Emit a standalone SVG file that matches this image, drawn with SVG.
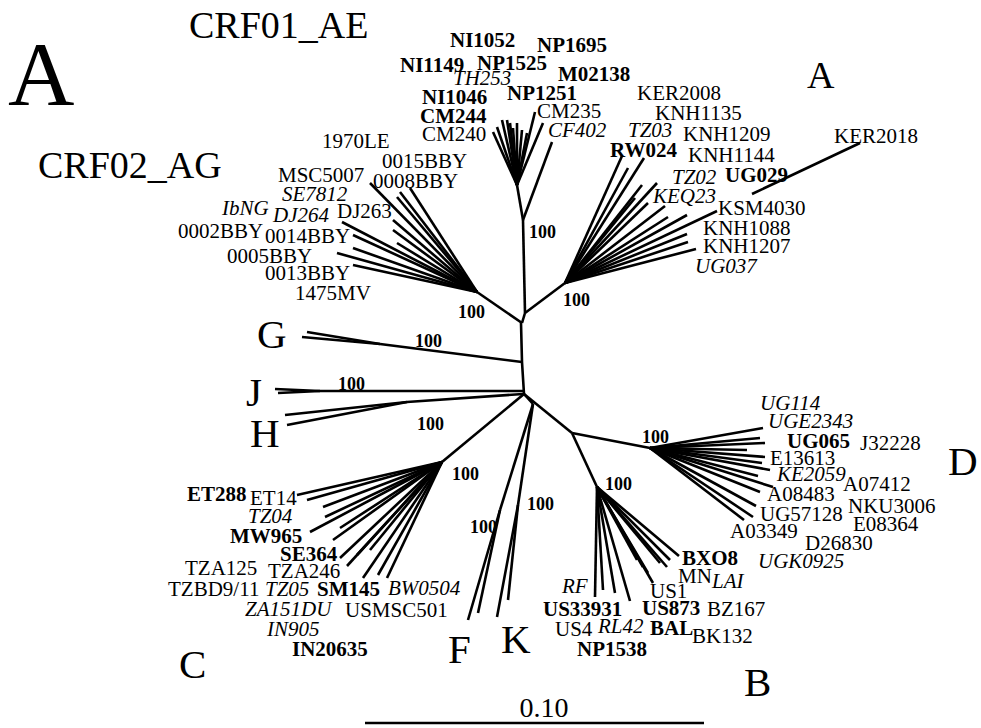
<svg xmlns="http://www.w3.org/2000/svg" width="981" height="728" viewBox="0 0 981 728">
<style>
text{font-family:"Liberation Serif","Times New Roman",serif;fill:#000}
.t{font-size:21px}
.b{font-weight:bold}
.i{font-style:italic}
.bs{font-size:18px;font-weight:bold}
.big{font-size:41px}
.crf{font-size:38px}
.ln{stroke:#000;stroke-width:2.6;fill:none;stroke-linecap:butt}
</style>
<rect width="981" height="728" fill="#fff"/>
<g id="connectors" class="ln">
<polyline points="521,323 522,362 524,394"/>
<line x1="522" y1="323" x2="477" y2="292"/>
<line x1="522" y1="323" x2="525" y2="313"/>
<line x1="525" y1="313" x2="565" y2="283"/>
<line x1="525" y1="313" x2="523" y2="220"/>
<line x1="523" y1="220" x2="517" y2="185"/>
<line x1="523" y1="220" x2="552" y2="142"/>
<g id="crf01-tips">
<line x1="517" y1="185" x2="493" y2="132"/><line x1="517" y1="185" x2="497" y2="127"/>
<line x1="517" y1="185" x2="502" y2="120"/><line x1="517" y1="185" x2="507" y2="120"/>
<line x1="517" y1="185" x2="510" y2="123"/><line x1="517" y1="185" x2="513" y2="128"/>
<line x1="517" y1="185" x2="517" y2="123"/><line x1="517" y1="185" x2="522" y2="130"/>
<line x1="517" y1="185" x2="527" y2="133"/><line x1="517" y1="185" x2="535" y2="112"/>
<line x1="517" y1="185" x2="543" y2="123"/>
</g>
<g id="a-tips">
<line x1="565" y1="283" x2="622" y2="156"/><line x1="565" y1="283" x2="628" y2="168"/>
<line x1="565" y1="283" x2="644" y2="158"/><line x1="565" y1="283" x2="642" y2="185"/>
<line x1="565" y1="283" x2="657" y2="183"/><line x1="565" y1="283" x2="635" y2="198"/>
<line x1="565" y1="283" x2="648" y2="203"/><line x1="565" y1="283" x2="665" y2="206"/>
<line x1="565" y1="283" x2="668" y2="217"/><line x1="565" y1="283" x2="687" y2="215"/>
<line x1="565" y1="283" x2="717" y2="211"/><line x1="752" y1="194" x2="860" y2="143"/>
<line x1="565" y1="283" x2="687" y2="234"/><line x1="565" y1="283" x2="688" y2="242"/>
<line x1="565" y1="283" x2="696" y2="249"/>
</g>
<g id="crf02-tips">
<line x1="477" y1="292" x2="370" y2="183"/><line x1="477" y1="292" x2="400" y2="192"/>
<line x1="477" y1="292" x2="410" y2="188"/><line x1="477" y1="292" x2="397" y2="197"/>
<line x1="477" y1="292" x2="393" y2="220"/><line x1="477" y1="292" x2="393" y2="230"/>
<line x1="477" y1="292" x2="397" y2="243"/><line x1="477" y1="292" x2="342" y2="222"/>
<line x1="477" y1="292" x2="353" y2="235"/><line x1="477" y1="292" x2="353" y2="248"/>
<line x1="477" y1="292" x2="337" y2="253"/><line x1="477" y1="292" x2="353" y2="265"/>
</g>
<line x1="522" y1="362" x2="380" y2="344"/>
<line x1="380" y1="344" x2="307" y2="332"/><line x1="380" y1="344" x2="302" y2="337"/>
<line x1="523" y1="391" x2="320" y2="391"/>
<line x1="320" y1="391" x2="275" y2="389"/><line x1="320" y1="391" x2="278" y2="393"/>
<line x1="523" y1="394" x2="407" y2="402"/>
<line x1="407" y1="402" x2="285" y2="415"/><line x1="407" y1="402" x2="287" y2="425"/>
<line x1="524" y1="394" x2="442" y2="462"/>
<g id="c-tips">
<line x1="442" y1="462" x2="297" y2="495"/><line x1="442" y1="462" x2="307" y2="500"/>
<line x1="442" y1="462" x2="323" y2="507"/><line x1="442" y1="462" x2="325" y2="517"/>
<line x1="442" y1="462" x2="310" y2="532"/><line x1="442" y1="462" x2="340" y2="528"/>
<line x1="442" y1="462" x2="333" y2="540"/><line x1="442" y1="462" x2="340" y2="558"/>
<line x1="442" y1="462" x2="347" y2="566"/><line x1="442" y1="462" x2="357" y2="555"/>
<line x1="442" y1="462" x2="363" y2="578"/><line x1="442" y1="462" x2="370" y2="550"/>
<line x1="442" y1="462" x2="378" y2="575"/><line x1="442" y1="462" x2="387" y2="578"/>
</g>
<line x1="524" y1="394" x2="533" y2="404"/>
<line x1="533" y1="404" x2="500" y2="510"/>
<line x1="500" y1="510" x2="468" y2="620"/><line x1="500" y1="510" x2="478" y2="613"/>
<line x1="533" y1="404" x2="518" y2="505"/>
<line x1="518" y1="505" x2="497" y2="617"/><line x1="518" y1="505" x2="508" y2="600"/>
<line x1="524" y1="394" x2="572" y2="433"/>
<line x1="572" y1="433" x2="650" y2="448"/>
<line x1="572" y1="433" x2="597" y2="487"/>
<g id="d-tips">
<line x1="650" y1="448" x2="763" y2="428"/><line x1="650" y1="448" x2="760" y2="438"/>
<line x1="650" y1="448" x2="765" y2="443"/><line x1="650" y1="448" x2="747" y2="450"/>
<line x1="650" y1="448" x2="765" y2="457"/><line x1="650" y1="448" x2="762" y2="463"/>
<line x1="650" y1="448" x2="770" y2="470"/><line x1="650" y1="448" x2="758" y2="476"/>
<line x1="650" y1="448" x2="773" y2="487"/><line x1="650" y1="448" x2="760" y2="492"/>
<line x1="650" y1="448" x2="756" y2="506"/><line x1="650" y1="448" x2="753" y2="517"/>
<line x1="650" y1="448" x2="744" y2="520"/>
</g>
<g id="b-tips">
<line x1="597" y1="487" x2="595" y2="597"/><line x1="597" y1="487" x2="603" y2="590"/>
<line x1="597" y1="487" x2="615" y2="593"/><line x1="597" y1="487" x2="630" y2="601"/>
<line x1="597" y1="487" x2="637" y2="560"/><line x1="597" y1="487" x2="643" y2="567"/>
<line x1="597" y1="487" x2="648" y2="573"/><line x1="597" y1="487" x2="653" y2="583"/>
<line x1="597" y1="487" x2="660" y2="563"/><line x1="597" y1="487" x2="667" y2="567"/>
<line x1="597" y1="487" x2="670" y2="560"/><line x1="597" y1="487" x2="679" y2="556"/>
</g>
<line x1="365" y1="723" x2="704" y2="723"/>
</g>
<g id="title-A"><text x="8" y="105" style="font-size:92px">A</text></g>
<g id="CRF01_AE"><text class="crf" x="189" y="38">CRF01_AE</text>
<g class="t">
<text class="b" x="450" y="47">NI1052</text>
<text class="b" x="537" y="52">NP1695</text>
<text class="b" x="400" y="72">NI1149</text>
<text class="b" x="477" y="70">NP1525</text>
<text class="i" x="453" y="85">TH253</text>
<text class="b" x="558" y="81">M02138</text>
<text class="b" x="422" y="104">NI1046</text>
<text class="b" x="507" y="100">NP1251</text>
<text class="b" x="420" y="123">CM244</text>
<text x="537" y="118">CM235</text>
<text x="422" y="141">CM240</text>
<text class="i" x="548" y="137">CF402</text>
</g></g>
<g id="subtype-A"><text class="crf" x="807" y="88">A</text>
<g class="t">
<text x="637" y="100">KER2008</text>
<text x="655" y="120">KNH1135</text>
<text class="i" x="628" y="137">TZ03</text>
<text x="683" y="141">KNH1209</text>
<text class="b" x="610" y="157">RW024</text>
<text x="688" y="162">KNH1144</text>
<text class="i" x="672" y="184">TZ02</text>
<text class="b" x="725" y="182">UG029</text>
<text class="i" x="653" y="203">KEQ23</text>
<text x="718" y="215">KSM4030</text>
<text x="703" y="235">KNH1088</text>
<text x="703" y="253">KNH1207</text>
<text class="i" x="695" y="273">UG037</text>
<text x="834" y="143">KER2018</text>
</g></g>
<g id="CRF02_AG"><text class="crf" x="38" y="178">CRF02_AG</text>
<g class="t">
<text x="322" y="148">1970LE</text>
<text x="382" y="168">0015BBY</text>
<text x="278" y="182">MSC5007</text>
<text x="373" y="188">0008BBY</text>
<text class="i" x="282" y="201">SE7812</text>
<text class="i" x="222" y="215">IbNG</text>
<text class="i" x="273" y="222">DJ264</text>
<text x="337" y="218">DJ263</text>
<text x="178" y="238">0002BBY</text>
<text x="265" y="243">0014BBY</text>
<text x="227" y="263">0005BBY</text>
<text x="265" y="280">0013BBY</text>
<text x="295" y="300">1475MV</text>
</g></g>
<g id="subtype-G"><text class="big" x="257" y="348">G</text></g>
<g id="subtype-J"><text class="big" x="246" y="406">J</text></g>
<g id="subtype-H"><text class="big" x="250" y="447">H</text></g>
<g id="subtype-C"><text class="big" x="179" y="678">C</text>
<g class="t">
<text class="b" x="187" y="501">ET288</text>
<text x="250" y="505">ET14</text>
<text class="i" x="248" y="523">TZ04</text>
<text class="b" x="230" y="543">MW965</text>
<text class="b" x="280" y="561">SE364</text>
<text x="185" y="575">TZA125</text>
<text x="268" y="578">TZA246</text>
<text x="168" y="596">TZBD9/11</text>
<text class="i" x="265" y="596">TZ05</text>
<text class="b" x="317" y="596">SM145</text>
<text class="i" x="388" y="595">BW0504</text>
<text class="i" x="245" y="616">ZA151DU</text>
<text x="345" y="617">USMSC501</text>
<text class="i" x="267" y="636">IN905</text>
<text class="b" x="292" y="656">IN20635</text>
</g></g>
<g id="subtype-F"><text class="big" x="448" y="663">F</text></g>
<g id="subtype-K"><text class="big" x="501" y="653">K</text></g>
<g id="subtype-B"><text class="big" x="744" y="696">B</text>
<g class="t">
<text class="i" x="562" y="593">RF</text>
<text class="b" x="543" y="616">US33931</text>
<text x="650" y="598">US1</text>
<text class="b" x="642" y="615">US873</text>
<text x="707" y="616">BZ167</text>
<text x="678" y="583">MN</text>
<text class="i" x="712" y="588">LAI</text>
<text class="b" x="682" y="565">BXO8</text>
<text x="555" y="636">US4</text>
<text class="i" x="598" y="633">RL42</text>
<text class="b" x="650" y="635">BAL</text>
<text x="692" y="643">BK132</text>
<text class="b" x="577" y="656">NP1538</text>
</g></g>
<g id="subtype-D"><text class="big" x="948" y="475">D</text>
<g class="t">
<text class="i" x="760" y="410">UG114</text>
<text class="i" x="768" y="428">UGE2343</text>
<text class="b" x="787" y="448">UG065</text>
<text x="860" y="450">J32228</text>
<text x="770" y="465">E13613</text>
<text class="i" x="777" y="481">KE2059</text>
<text x="843" y="491">A07412</text>
<text x="767" y="501">A08483</text>
<text x="848" y="513">NKU3006</text>
<text x="760" y="521">UG57128</text>
<text x="853" y="531">E08364</text>
<text x="730" y="538">A03349</text>
<text x="805" y="550">D26830</text>
<text class="i" x="758" y="568">UGK0925</text>
</g></g>
<g id="bootstrap" class="bs">
<text class="bs" x="529" y="238">100</text>
<text class="bs" x="563" y="306">100</text>
<text class="bs" x="458" y="318">100</text>
<text class="bs" x="415" y="347">100</text>
<text class="bs" x="338" y="390">100</text>
<text class="bs" x="417" y="430">100</text>
<text class="bs" x="452" y="480">100</text>
<text class="bs" x="470" y="533">100</text>
<text class="bs" x="527" y="510">100</text>
<text class="bs" x="605" y="490">100</text>
<text class="bs" x="642" y="443">100</text>
</g>
<g id="scale"><text x="544" y="717" text-anchor="middle" style="font-size:28px">0.10</text></g>
</svg>
